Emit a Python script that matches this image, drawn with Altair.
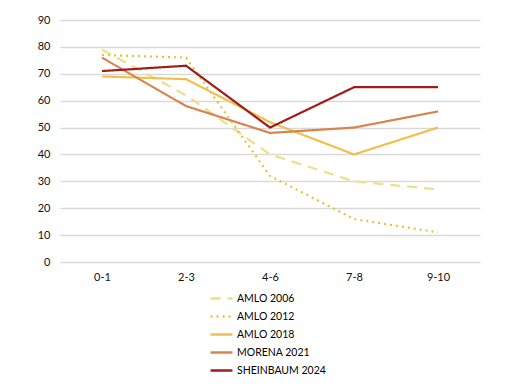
import altair as alt
import pandas as pd

categories = ["0-1", "2-3", "4-6", "7-8", "9-10"]
series_names = ["AMLO 2006", "AMLO 2012", "AMLO 2018", "MORENA 2021", "SHEINBAUM 2024"]
amlo_2006 = [79, 62, 40, 30, 27]
amlo_2012 = [77, 76, 32, 16, 11]
amlo_2018 = [69, 68, 52, 40, 50]
morena_2021 = [76, 58, 48, 50, 56]
sheinbaum_2024 = [71, 73, 50, 65, 65]

colors = ["#ebe08a", "#e3c43c", "#f0c04c", "#d9844c", "#a01c1c"]
dashes = [[10, 7], [2, 4], [1, 0], [1, 0], [1, 0]]

rows = []
for name, vals in zip(series_names, [amlo_2006, amlo_2012, amlo_2018, morena_2021, sheinbaum_2024]):
    for c, v in zip(categories, vals):
        rows.append({"cat": c, "value": v, "series": name})
df = pd.DataFrame(rows)

font = "Lato"

chart = alt.Chart(df).mark_line(strokeWidth=2.2).encode(
    x=alt.X("cat:N", sort=categories, title=None,
            scale=alt.Scale(type="point", padding=0.5),
            axis=alt.Axis(labelAngle=0, domain=False, ticks=False, grid=False,
                          labelFont=font, labelFontSize=11, labelColor="#111",
                          labelPadding=9)),
    y=alt.Y("value:Q", title=None,
            scale=alt.Scale(domain=[0, 90], nice=False),
            axis=alt.Axis(values=list(range(0, 91, 10)), domain=False, ticks=False,
                          gridColor="#d9d9d9", gridWidth=1.3,
                          labelFont=font, labelFontSize=11, labelColor="#111",
                          labelPadding=10)),
    color=alt.Color("series:N", sort=series_names,
                    scale=alt.Scale(domain=series_names, range=colors),
                    legend=alt.Legend(title=None, orient="none", legendX=149, legendY=266,
                                      symbolType="stroke", symbolSize=480, symbolStrokeWidth=2.5,
                                      labelFont=font, labelFontSize=10.5, labelColor="#000",
                                      labelOffset=3, rowPadding=0, labelLimit=300)),
    strokeDash=alt.StrokeDash("series:N", sort=series_names,
                              scale=alt.Scale(domain=series_names, range=dashes),
                              legend=None),
    order=alt.Order("series:N"),
).properties(
    width=420, height=242,
    autosize=alt.AutoSizeParams(type="none"),
    padding={"left": 52, "top": 12, "right": 20, "bottom": 126},
).configure_view(stroke=None)

chart.save("out.html", embed_options={"renderer": "svg", "actions": False})
